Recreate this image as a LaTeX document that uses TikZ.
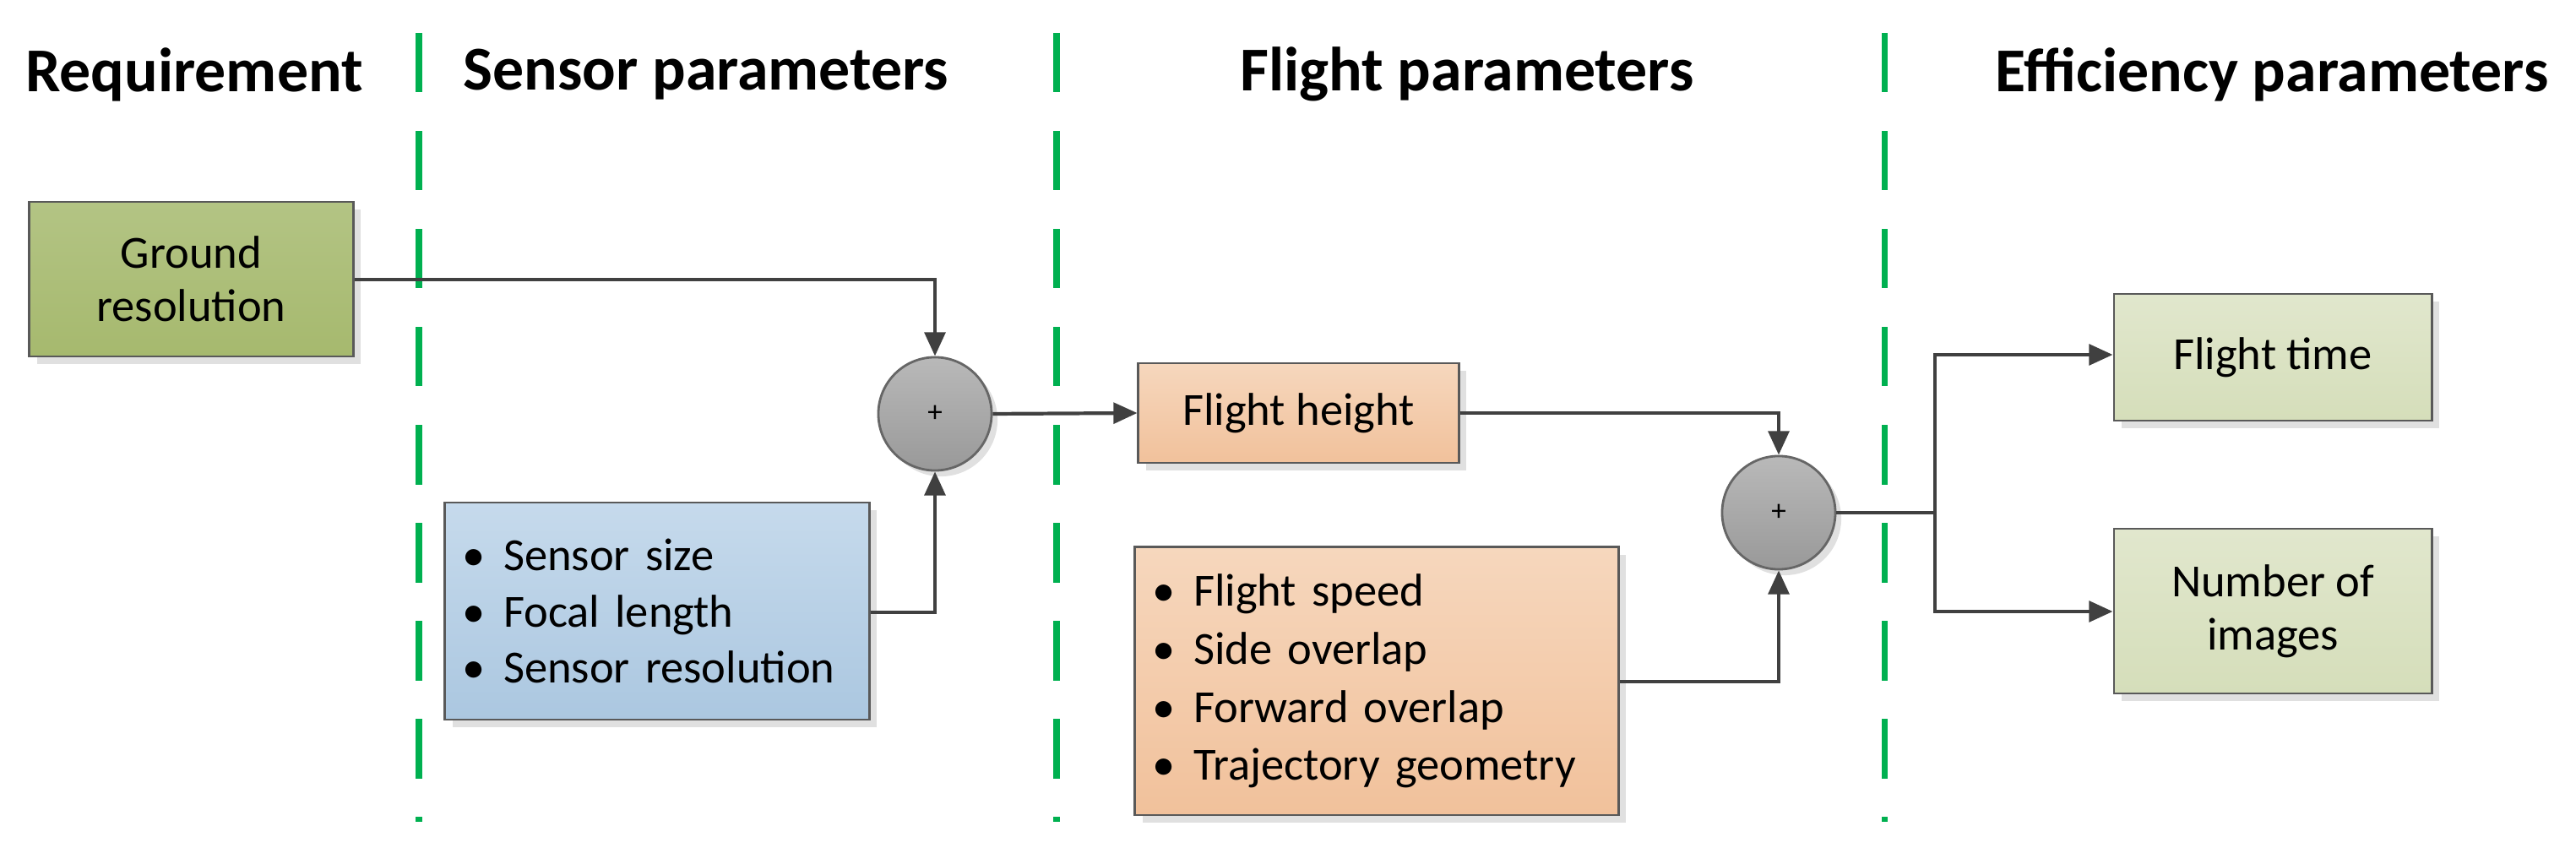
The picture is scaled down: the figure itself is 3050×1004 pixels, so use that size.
\documentclass[tikz,border=0pt]{standalone}
\usepackage{fontspec}
\setmainfont{Carlito}
\usetikzlibrary{arrows.meta,shadows}
\definecolor{arr}{HTML}{404040}
\definecolor{dgreen}{HTML}{00B050}
\definecolor{gA}{HTML}{B3C484}\definecolor{gB}{HTML}{A6B96E}
\definecolor{bA}{HTML}{C6DAEC}\definecolor{bB}{HTML}{ABC7E0}
\definecolor{oA}{HTML}{F6D7BD}\definecolor{oB}{HTML}{F1C19B}
\definecolor{lA}{HTML}{E1E7CD}\definecolor{lB}{HTML}{D5DEBA}
\begin{document}
\begin{tikzpicture}[x=0.01cm,y=-0.01cm,
  box/.style={draw=gray!70!black,line width=0.8pt,inner sep=0pt,font=\fontsize{15.5}{18}\selectfont,align=center,
    drop shadow={shadow xshift=2.5pt,shadow yshift=-2.5pt,fill=black!12,opacity=1}},
  lst/.style={box,align=left,inner xsep=6pt},
  sum/.style={circle,draw=arr!80,line width=0.8pt,inner sep=0pt,minimum size=1.34cm,top color=gray!55,bottom color=gray!80,
    font=\fontsize{10}{12}\selectfont,drop shadow={shadow xshift=2pt,shadow yshift=-2pt,fill=black!12,opacity=1}},
  con/.style={draw=arr,line width=1.2pt,-{Triangle[length=8pt,width=7pt]}},
  sep/.style={draw=dgreen,line width=2pt,dash pattern=on 20pt off 13pt},
  head/.style={font=\bfseries\fontsize{21}{25}\selectfont}]
\useasboundingbox (0,0) rectangle (3050,1004);
\draw[sep] (496,39) -- (496,973);
\draw[sep] (1251,39) -- (1251,973);
\draw[sep] (2231,39) -- (2231,973);
\node[head] (h1) at (230,88) {Requirement};
\node[head] (h2) at (836,88) {Sensor parameters};
\node[head] (h3) at (1737,88) {Flight parameters};
\node[head] (h4) at (2690,88) {Efficiency parameters};
\node[box,minimum width=3.83cm,minimum height=1.83cm,top color=gA,bottom color=gB] (gr) at (226.5,330.5) {Ground\\resolution};
\node[lst,minimum width=4.94cm,minimum height=2.57cm,top color=bA,bottom color=bB,text width=4.6cm,font=\fontsize{15.5}{19}\selectfont] (se) at (778,723.5)
  {\textbullet\hspace{6pt}Sensor size\\\textbullet\hspace{6pt}Focal length\\\textbullet\hspace{6pt}Sensor resolution};
\node[sum] (s1) at (1107,490) {+};
\node[box,minimum width=3.79cm,minimum height=1.18cm,top color=oA,bottom color=oB] (fh) at (1537.5,489) {Flight height};
\node[lst,minimum width=5.64cm,minimum height=3.17cm,top color=oA,bottom color=oB,text width=5.3cm,font=\fontsize{15.5}{19.5}\selectfont] (fl) at (1630,806.5)
  {\textbullet\hspace{6pt}Flight speed\\\textbullet\hspace{6pt}Side overlap\\\textbullet\hspace{6pt}Forward overlap\\\textbullet\hspace{6pt}Trajectory geometry};
\node[sum] (s2) at (2106,607) {+};
\node[box,minimum width=3.76cm,minimum height=1.5cm,top color=lA,bottom color=lB] (ft) at (2691,423) {Flight time};
\node[box,minimum width=3.76cm,minimum height=1.95cm,top color=lA,bottom color=lB] (ni) at (2691,723.5) {Number of\\images};
\coordinate (sp) at (2291,607);
\draw[con] (gr.east |- 0,331) -| (s1.north);
\draw[con] (se.east |- 0,725) -| (s1.south);
\draw[con] (s1.east) -- (fh.west);
\draw[con] (fh.east) -| (s2.north);
\draw[con] (fl.east |- 0,807) -| (s2.south);
\draw[draw=arr,line width=1.2pt] (s2.east) -- (sp);
\draw[con] (sp) |- (ft.west |- 0,420);
\draw[con] (sp) |- (ni.west |- 0,724);
\end{tikzpicture}
\end{document}
